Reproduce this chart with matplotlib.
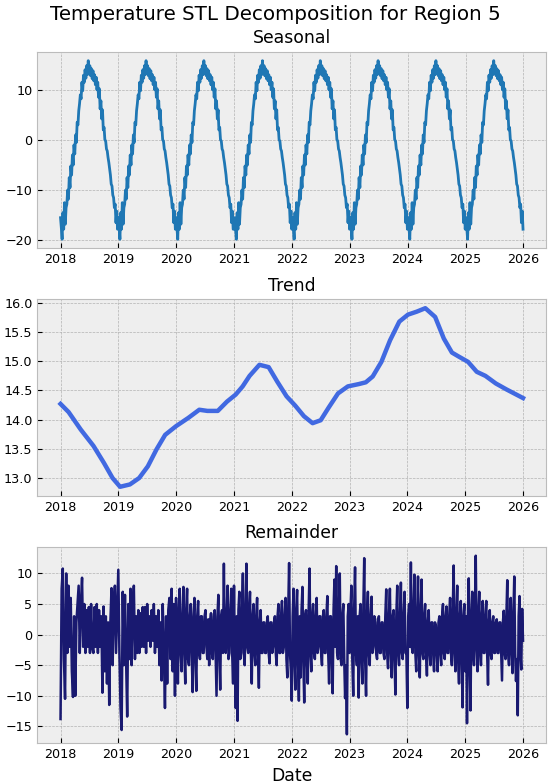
import numpy as np
import pandas as pd
import matplotlib
matplotlib.use("Agg")
import matplotlib.pyplot as plt

plt.style.use("bmh")

# seasonal profile, one value every 5 days from Jan 1 (STL seasonal repeats each year)
seasonal_profile = [
    -15.5, -17.5, -19.8, -14.5, -17.8, -12.5, -16.8, -13.5, -12.8, -10.0,
    -11.8, -7.5, -9.5, -5.2, -7.0, -3.0, -5.0, -1.0, -2.8, 1.0,
    -0.5, 3.5, 3.0, 5.8, 7.2, 9.0, 8.2, 11.5, 9.8, 12.9,
    11.5, 14.0, 12.3, 14.8, 13.0, 15.8, 13.2, 14.8, 12.8, 14.2,
    12.2, 13.8, 11.8, 13.0, 11.0, 12.5, 10.0, 11.5, 8.5, 10.2,
    6.2, 7.8, 4.2, 6.0, 2.0, 2.5, 0.0, -0.2, -1.8, -2.2,
    -3.5, -4.5, -5.8, -7.0, -8.8, -9.2, -11.0, -11.5, -13.5, -12.8,
    -16.5, -14.2, -17.8,
]

# trend, read at decimal years
trend_t = [2018.0, 2018.14, 2018.35, 2018.57, 2018.75, 2018.9, 2019.03, 2019.2, 2019.36, 2019.51,
           2019.66, 2019.81, 2020.0, 2020.21, 2020.4, 2020.54, 2020.72, 2020.88, 2021.03, 2021.15,
           2021.27, 2021.44, 2021.6, 2021.75, 2021.91, 2022.06, 2022.21, 2022.36, 2022.5, 2022.64,
           2022.8, 2022.97, 2023.16, 2023.28, 2023.4, 2023.55, 2023.7, 2023.86, 2024.01, 2024.16,
           2024.31, 2024.48, 2024.63, 2024.77, 2024.89, 2025.05, 2025.2, 2025.35, 2025.53, 2025.71,
           2026.0]
trend_vals = [14.27, 14.13, 13.83, 13.55, 13.26, 13.0, 12.85, 12.89, 13.0, 13.2,
              13.49, 13.74, 13.89, 14.03, 14.17, 14.15, 14.15, 14.31, 14.43, 14.57,
              14.75, 14.94, 14.9, 14.65, 14.4, 14.24, 14.06, 13.94, 13.99, 14.21,
              14.45, 14.57, 14.61, 14.64, 14.74, 14.99, 15.36, 15.68, 15.8, 15.85,
              15.91, 15.76, 15.39, 15.15, 15.08, 14.99, 14.82, 14.75, 14.62, 14.52,
              14.37]

# remainder, one list per year
rem_2018 = [-13.8, 7.5, 10.8, -4, -10.5, 10, -3, 8, -2, 6, -6, -10.2, 3, -10, 2, 5, 8, -3, 5, 9.3,
            -2, 5, -3, 4, -2, 4.5, -3, 5, -2, -3, 4.5, -2, 5, -3, 4, -2, 3, -9.5, 4.6, -6,
            3, -8, 2, -11.5, 2, 7.6, -5, 5, 8, -3, 4]
rem_2019 = [10.6, -3, -12, -15.6, 7, -5, 6.5, -4, -13.4, 5, -4, 7.5, -5, 4, 8, -4, 3, -3, 4, -3,
            3.5, -2, 4.5, -2, 4.5, -3, 5, -1, 3, -2, 4, -1, 5, -3, 3, -2, 4, -5, 2, -7.5,
            5, -3, -12, 3, -8, 4, 6, -4, 7.5, -6, 5, -10]
rem_2020 = [6, -4, -8, 4, 7.5, -3, -6, 3, 7.8, -3, -8, 4, 7.5, -4, -5, 3, 5, -3, -9.4, 3,
            6, -4, -9.2, 3, 5.5, -3, -4, 3, 3, -3, -3, 3, 4, -2, -4, 2.5, -5, 2, 3.5, -3,
            -4, 3, 4, -3, -10, 3, 6.5, -3, -9, 3, 4, -3, 11.6, -2, -3, 3, 8, -4, -3, 4,
            7.5, -3, -8]
rem_2021 = [8, -4, -12, 3, -14.1, 4, 7, -4, -3, 4, 10, -3, -5, 3, 11.6, -2, -3, 4, 7, -3,
            -8, 3, 5, -3, -5, 3, 6, -3, -8.7, 2, 4, -3, -3, 2, 2, -3, -3, 2, 3, -3,
            -4.7, 2, 2, -3, -2, 2, 3, -3, -5, 3, 5, -3, -3, 3, 5.5, -3, -2, 3, 6, -4,
            -7, 4, 11.7, -3, -6]
rem_2022 = [-10.8, 3, 7.5, -4, -9, 4, 7.3, -4, -10.8, 3, -7, 4, 7.8, -4, -11.1, 3, 4, -4, -8, 4,
            10.8, -3, -6, 3, 5, -3, -4, 3, 6, -3, -2, 3, 3, -3, -5, 3, 4, -3, -3, 3,
            6.3, -3, -8, 3, 3, -4, -9.6, 4, 9, -2, 11.2, -3, -4, 4, 10, -4, -5, 3, 5, -4,
            -10.4, -5, -16.3, 3, 5]
rem_2023 = [-3, 4, 8, -4, -10, 4, 11, -3, -5, 3, -10.3, 3, 5, -4, -8, 4, 12.5, -4, -10, 3,
            7, -3, -5, 3, 6.2, -3, -2, 3, 2.5, -3, -4, 2, 3, -3, -3, 2, 2, -3, -4, 3,
            7.4, -3, -5.5, 3, 7.5, -3, -7, 3, 4, -4, -9.8, 3, 8, -3, -5, 3, 8.5, -3, -4, 3,
            7, -3, -3]
rem_2024 = [-12, 3, 5, -2, 11.8, -2, -3, 4, 9.8, -3, -6, 3, 9.5, -3, -7, 4, 9, -3, -4, 3,
            5, -3, -6.7, 2, 4, -3, -5, 2, 2, -3, -6, 2, 1.5, -3, -6, 2, 3, -3, -5, 3,
            5, -3, -4, 3, 4.6, -3, -3, 3, 6, -3, -5, 4, 11.3, -3, -6, 3, 8, -4, -8, 3,
            5.5, -4, -11.9, 3, 5]
rem_2025 = [-6, 3, -14.5, 3, 9.2, -4, -12.4, 3, 7, -3, -5, 4, 12.9, -2, -6, 3, 7, -3, -5, 3,
            5.5, -3, -3, 3, 5.5, -3, -8.2, 2, 4, -3, -4, 2, 3, -3, -3, 2, 2.5, -3, -3, 2,
            2, -3, -7.5, 2, 3.9, -3, -4, 3, 8.9, -3, -5, 3, 6, -3, -6.3, 3, 9.5, -3, -7.6, -4,
            -13.2, 3, 6.3, -3, -5.7, 4.2, -1]
remainder_years = {2018: rem_2018, 2019: rem_2019, 2020: rem_2020, 2021: rem_2021,
                   2022: rem_2022, 2023: rem_2023, 2024: rem_2024, 2025: rem_2025}


def decimal_to_date(t):
    t = np.asarray(t)
    start = pd.Timestamp("2018-01-01")
    return start + pd.to_timedelta((t - 2018.0) * 365.25, unit="D")


# seasonal series
s_dates = pd.date_range("2018-01-01", "2026-01-01", freq="5D")
s_idx = np.minimum((s_dates.dayofyear.values - 1) // 5, len(seasonal_profile) - 1)
s_vals = np.array(seasonal_profile)[s_idx]

# trend series
t_dates = decimal_to_date(trend_t)

# remainder series
r_dates = []
r_vals = []
for yr, vals in remainder_years.items():
    last = yr == 2025
    d = pd.date_range(f"{yr}-01-01", f"{yr + 1}-01-01", periods=len(vals) + (0 if last else 1))
    if not last:
        d = d[:-1]
    r_dates.extend(d)
    r_vals.extend(vals)

fig, axes = plt.subplots(3, 1, figsize=(5.5, 7.84), dpi=100)
fig.subplots_adjust(left=0.068, right=0.993, top=0.934, bottom=0.052, hspace=0.26)

ax1, ax2, ax3 = axes
ax1.plot(s_dates, s_vals, color="#1f77b4", linewidth=2.0)
ax1.set_title("Seasonal", fontsize=12.4)

ax2.plot(t_dates, trend_vals, color="royalblue", linewidth=3.2)
ax2.set_title("Trend", fontsize=12.4)

ax3.plot(r_dates, r_vals, color="midnightblue", linewidth=1.8)
ax3.set_title("Remainder", fontsize=12.4)
ax3.set_xlabel("Date", fontsize=12.4)

for ax in axes:
    ax.tick_params(axis="both", labelsize=9.2)

fig.suptitle("Temperature STL Decomposition for Region 5", fontsize=14.3, y=0.993)

plt.savefig("out.png", dpi=100)
